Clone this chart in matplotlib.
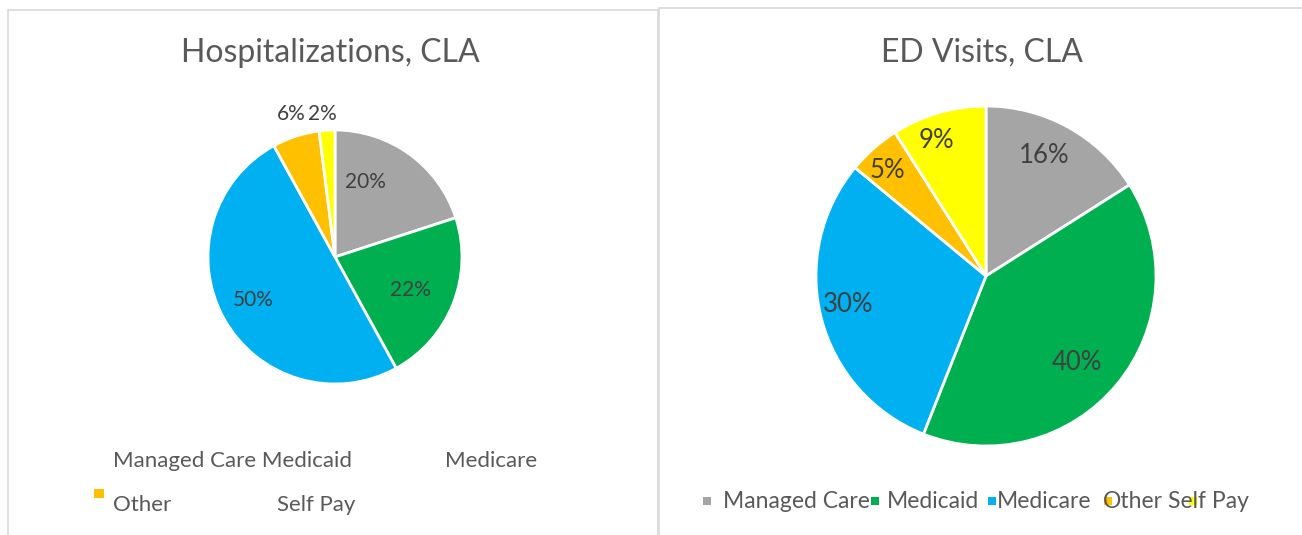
import numpy as np
import matplotlib
matplotlib.use("Agg")
import matplotlib.pyplot as plt
from matplotlib.patches import Rectangle

# ---- data ----
categories = ["Managed Care", "Medicaid", "Medicare", "Other", "Self Pay"]
hosp_values = [20, 22, 50, 6, 2]
ed_values = [16, 40, 30, 5, 9]
colors = ["#A5A5A5", "#00B050", "#00B0F0", "#FFC000", "#FFFF00"]
hosp_title = "Hospitalizations, CLA"
ed_title = "ED Visits, CLA"

FONT = "Lato"
W, H = 1302, 535
fig = plt.figure(figsize=(W / 100, H / 100), dpi=100)
fig.patch.set_facecolor("white")

def fx(px):
    return px / W

def fy(py):
    return 1 - py / H

# panel borders
fig.add_artist(Rectangle((fx(8), fy(600)), fx(650), (600 - 10) / H, transform=fig.transFigure,
                         fill=False, edgecolor="#D9D9D9", lw=1.2))
fig.add_artist(Rectangle((fx(659), fy(600)), fx(700), (600 - 8) / H, transform=fig.transFigure,
                         fill=False, edgecolor="#D9D9D9", lw=1.2))


def draw_pie(cx, cy, r, values, label_dist, label_ang_off, fs):
    ax = fig.add_axes([fx(cx - r), fy(cy + r), 2 * r / W, 2 * r / H])
    wedges, _ = ax.pie(values, colors=colors, startangle=90, counterclock=False,
                       radius=1, wedgeprops=dict(edgecolor="white", linewidth=2.0))
    ax.set_xlim(-1, 1)
    ax.set_ylim(-1, 1)
    ax.set_aspect("equal")
    ax.axis("off")
    total = sum(values)
    for w, v, d, off in zip(wedges, values, label_dist, label_ang_off):
        ang = np.deg2rad((w.theta1 + w.theta2) / 2 + off)
        txt = f"{round(100 * v / total)}%"
        ax.text(d * np.cos(ang), d * np.sin(ang), txt, ha="center", va="center",
                fontsize=fs, color="#404040", family=FONT, clip_on=False)
    return ax


draw_pie(335, 257, 127, hosp_values,
         [0.64, 0.645, 0.73, 1.18, 1.13], [14, -2, -1, -1, 1.4], 15)
draw_pie(986, 276, 170, ed_values,
         [0.79, 0.74, 0.83, 0.85, 0.85], [3, -4, -2.6, 1.6, 3.8], 18.5)

# titles
fig.text(fx(330), fy(53), hosp_title, ha="center", va="center", fontsize=23,
         color="#595959", family=FONT)
fig.text(fx(982), fy(53), ed_title, ha="center", va="center", fontsize=23,
         color="#595959", family=FONT)

leg_color = "#595959"
LFS = 16
# left legend (as rendered in the reference)
fig.text(fx(113), fy(461), categories[0] + " " + categories[1], ha="left", va="center",
         fontsize=LFS, color=leg_color, family=FONT)
fig.text(fx(445), fy(461), categories[2], ha="left", va="center",
         fontsize=LFS, color=leg_color, family=FONT)
fig.text(fx(113), fy(505), categories[3], ha="left", va="center",
         fontsize=LFS, color=leg_color, family=FONT)
fig.text(fx(277), fy(505), categories[4], ha="left", va="center",
         fontsize=LFS, color=leg_color, family=FONT)
fig.add_artist(Rectangle((fx(94), fy(498)), fx(10), 9 / H, transform=fig.transFigure,
                         color=colors[3], lw=0))

# right legend
text_x = [723, 887, 997, 1103, 1168]
mark_x = [707, 875, 992, 1108, 1193]
for cat, col, tx, mx in zip(categories, colors, text_x, mark_x):
    fig.add_artist(Rectangle((fx(mx - 4), fy(505)), fx(8), 8 / H, transform=fig.transFigure,
                             color=col, lw=0))
    fig.text(fx(tx), fy(502), cat, ha="left", va="center", fontsize=16.5,
             color=leg_color, family=FONT)

fig.savefig("out.png", dpi=100, facecolor="white")
